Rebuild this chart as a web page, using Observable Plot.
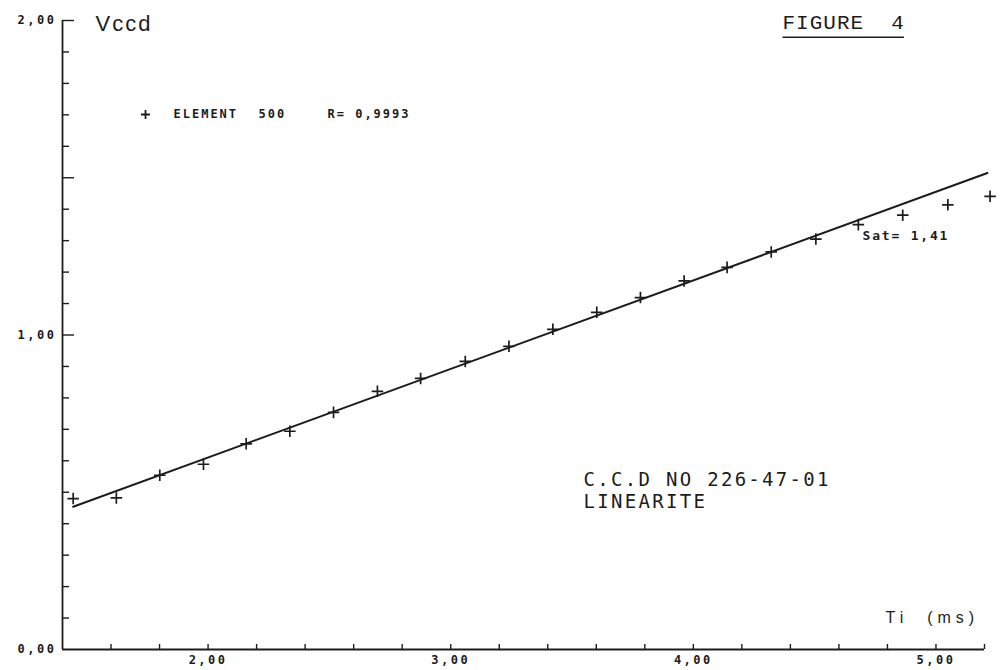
<!DOCTYPE html>
<html>
<head>
<meta charset="utf-8">
<script src="https://cdn.jsdelivr.net/npm/d3@7"></script>
<script src="https://cdn.jsdelivr.net/npm/@observablehq/plot@0.6"></script>
<style>
  html, body { margin: 0; padding: 0; background: #fff; }
  #chart { width: 1000px; height: 670px; }
  g[aria-label="y-axis tick label"] text,
  g[aria-label="x-axis tick label"] text { letter-spacing: 2.5px; font-weight: bold; }
  g[aria-description="figure"] text { letter-spacing: 1px; }
  g[aria-description="legend"] text { letter-spacing: 2px; }
  g[aria-description="sat"] text { letter-spacing: 1.8px; }
  g[aria-description="ccd"] text { letter-spacing: 2.3px; }
  g[aria-description="ylabel"] text { letter-spacing: 2px; }
  g[aria-description="xlabel"] text { letter-spacing: 5px; }
</style>
</head>
<body>
<div id="chart"></div>
<script>
// ---- data ----
const timeMs = [1.444, 1.622, 1.801, 1.981, 2.157, 2.337, 2.517, 2.698, 2.876, 3.060, 3.240,
                3.421, 3.602, 3.782, 3.962, 4.139, 4.321, 4.505, 4.680, 4.863, 5.049, 5.223];
const vccd   = [0.480, 0.482, 0.554, 0.589, 0.654, 0.694, 0.754, 0.821, 0.862, 0.916, 0.964,
                1.018, 1.072, 1.119, 1.172, 1.215, 1.264, 1.305, 1.351, 1.381, 1.414, 1.441];
const fitX = [1.444, 5.212];
const fitY = [0.454, 1.515];

const xDomain = [1.4, 5.2];
const yDomain = [0, 2];
const xTicks = [1.6, 1.8, 2.0, 2.2, 2.4, 2.6, 2.8, 3.0, 3.2, 3.4, 3.6, 3.8, 4.0, 4.2, 4.4, 4.6, 4.8, 5.0, 5.2];
const xTickLabels = [2, 3, 4, 5];
const yMinorTicks = [0.1, 0.2, 0.3, 0.4, 0.5, 0.6, 0.7, 0.8, 0.9, 1.1, 1.2, 1.3, 1.4, 1.6, 1.7, 1.8, 1.9];
const yMajorTicks = [1.0, 1.5, 2.0];
const yTickLabels = [0, 1, 2];

const yLabel = "Vccd";
const xLabel = "Ti\u00a0\u00a0(ms)";
const figureTitle = "FIGURE\u00a0\u00a04";
const legendName = "ELEMENT";
const legendId = "500";
const legendR = "R=\u00a00,9993";
const satLabel = "Sat=\u00a01,41";
const ccdLines = ["C.C.D NO 226-47-01", "LINEARITE"];

// ---- build ----
const ink = "#1c1c1c";
const points = timeMs.map((t, i) => ({t, v: vccd[i]}));
const fit = fitX.map((t, i) => ({t, v: fitY[i]}));
const fmt = d => d3.format(".2f")(d).replace(".", ",");

const chart = Plot.plot({
  width: 1000,
  height: 670,
  marginLeft: 62,
  marginRight: 16,
  marginTop: 20,
  marginBottom: 21,
  x: {domain: xDomain},
  y: {domain: yDomain},
  style: {background: "#fff", color: ink, fontFamily: "DejaVu Sans Mono", fontSize: "12px"},
  marks: [
    // axis lines
    Plot.ruleX([xDomain[0]], {stroke: ink, strokeWidth: 1.8}),
    Plot.ruleY([yDomain[0]], {stroke: ink, strokeWidth: 1.8}),
    // inward ticks
    Plot.axisY({ticks: yMinorTicks, tickSize: 7, dx: 7, tickFormat: () => "", label: null, stroke: ink, strokeWidth: 1.4}),
    Plot.axisY({ticks: yMajorTicks, tickSize: 12, dx: 12, tickFormat: () => "", label: null, stroke: ink, strokeWidth: 1.4}),
    Plot.axisY({ticks: yTickLabels, tickSize: 0, tickPadding: 6, tickFormat: fmt, label: null, fill: ink}),
    Plot.axisX({ticks: xTicks, tickSize: 5, dy: -5, tickFormat: () => "", label: null, stroke: ink, strokeWidth: 1.4}),
    Plot.axisX({ticks: xTickLabels, tickSize: 0, tickPadding: 6, tickFormat: fmt, label: null, fill: ink}),
    // regression line
    Plot.line(fit, {x: "t", y: "v", stroke: ink, strokeWidth: 2}),
    // measured points
    Plot.dot(points, {x: "t", y: "v", symbol: "plus", r: 3.8, stroke: ink, strokeWidth: 1.7}),
    // axis titles
    Plot.text([yLabel], {text: d => d, frameAnchor: "top-left", textAnchor: "start", lineAnchor: "middle",
      dx: 33, dy: 3, fontFamily: "Liberation Sans", fontSize: 22, fill: ink, ariaDescription: "ylabel"}),
    Plot.text([xLabel], {text: d => d, frameAnchor: "top-left", textAnchor: "start", lineAnchor: "middle",
      dx: 823, dy: 597, fontFamily: "Liberation Sans", fontSize: 16, fill: ink, ariaDescription: "xlabel"}),
    // figure title
    Plot.text([figureTitle], {text: d => d, frameAnchor: "top-left", textAnchor: "start", lineAnchor: "middle",
      dx: 720, dy: 2, fontFamily: "Liberation Mono", fontSize: 21, fill: ink, ariaDescription: "figure"}),
    // legend
    Plot.dot([legendName], {frameAnchor: "top-left", dx: 83, dy: 94, symbol: "plus", r: 3, stroke: ink, strokeWidth: 1.8}),
    Plot.text([legendName], {text: d => d, frameAnchor: "top-left", textAnchor: "start", lineAnchor: "middle",
      dx: 111, dy: 94, fontWeight: "bold", fontSize: 12, fill: ink, ariaDescription: "legend"}),
    Plot.text([legendId], {text: d => d, frameAnchor: "top-left", textAnchor: "start", lineAnchor: "middle",
      dx: 196, dy: 94, fontWeight: "bold", fontSize: 12, fill: ink, ariaDescription: "legend"}),
    Plot.text([legendR], {text: d => d, frameAnchor: "top-left", textAnchor: "start", lineAnchor: "middle",
      dx: 265, dy: 94, fontWeight: "bold", fontSize: 12, fill: ink, ariaDescription: "legend"}),
    // saturation note
    Plot.text([satLabel], {text: d => d, frameAnchor: "top-left", textAnchor: "start", lineAnchor: "middle",
      dx: 800, dy: 215, fontWeight: "bold", fontSize: 13, fill: ink, ariaDescription: "sat"}),
    // device label
    Plot.text([ccdLines.join("\n")], {text: d => d, frameAnchor: "top-left", textAnchor: "start", lineAnchor: "top",
      dx: 521, dy: 449, fontSize: 19, lineHeight: 1.2, fill: ink, ariaDescription: "ccd"})
  ]
});
document.getElementById("chart").appendChild(chart);

// underline the figure title (typewritten underline sits well below the baseline)
const titleText = chart.querySelector('g[aria-description="figure"] text');
if (titleText) {
  const bb = titleText.getBBox();
  const tr = titleText.getAttribute("transform");
  const ln = d3.select(titleText.parentNode).append("line")
    .attr("x1", bb.x).attr("x2", bb.x + bb.width - 1)
    .attr("y1", bb.y + bb.height + 2).attr("y2", bb.y + bb.height + 2)
    .attr("stroke", ink).attr("stroke-width", 1.5);
  if (tr) ln.attr("transform", tr);
}
</script>
</body>
</html>
